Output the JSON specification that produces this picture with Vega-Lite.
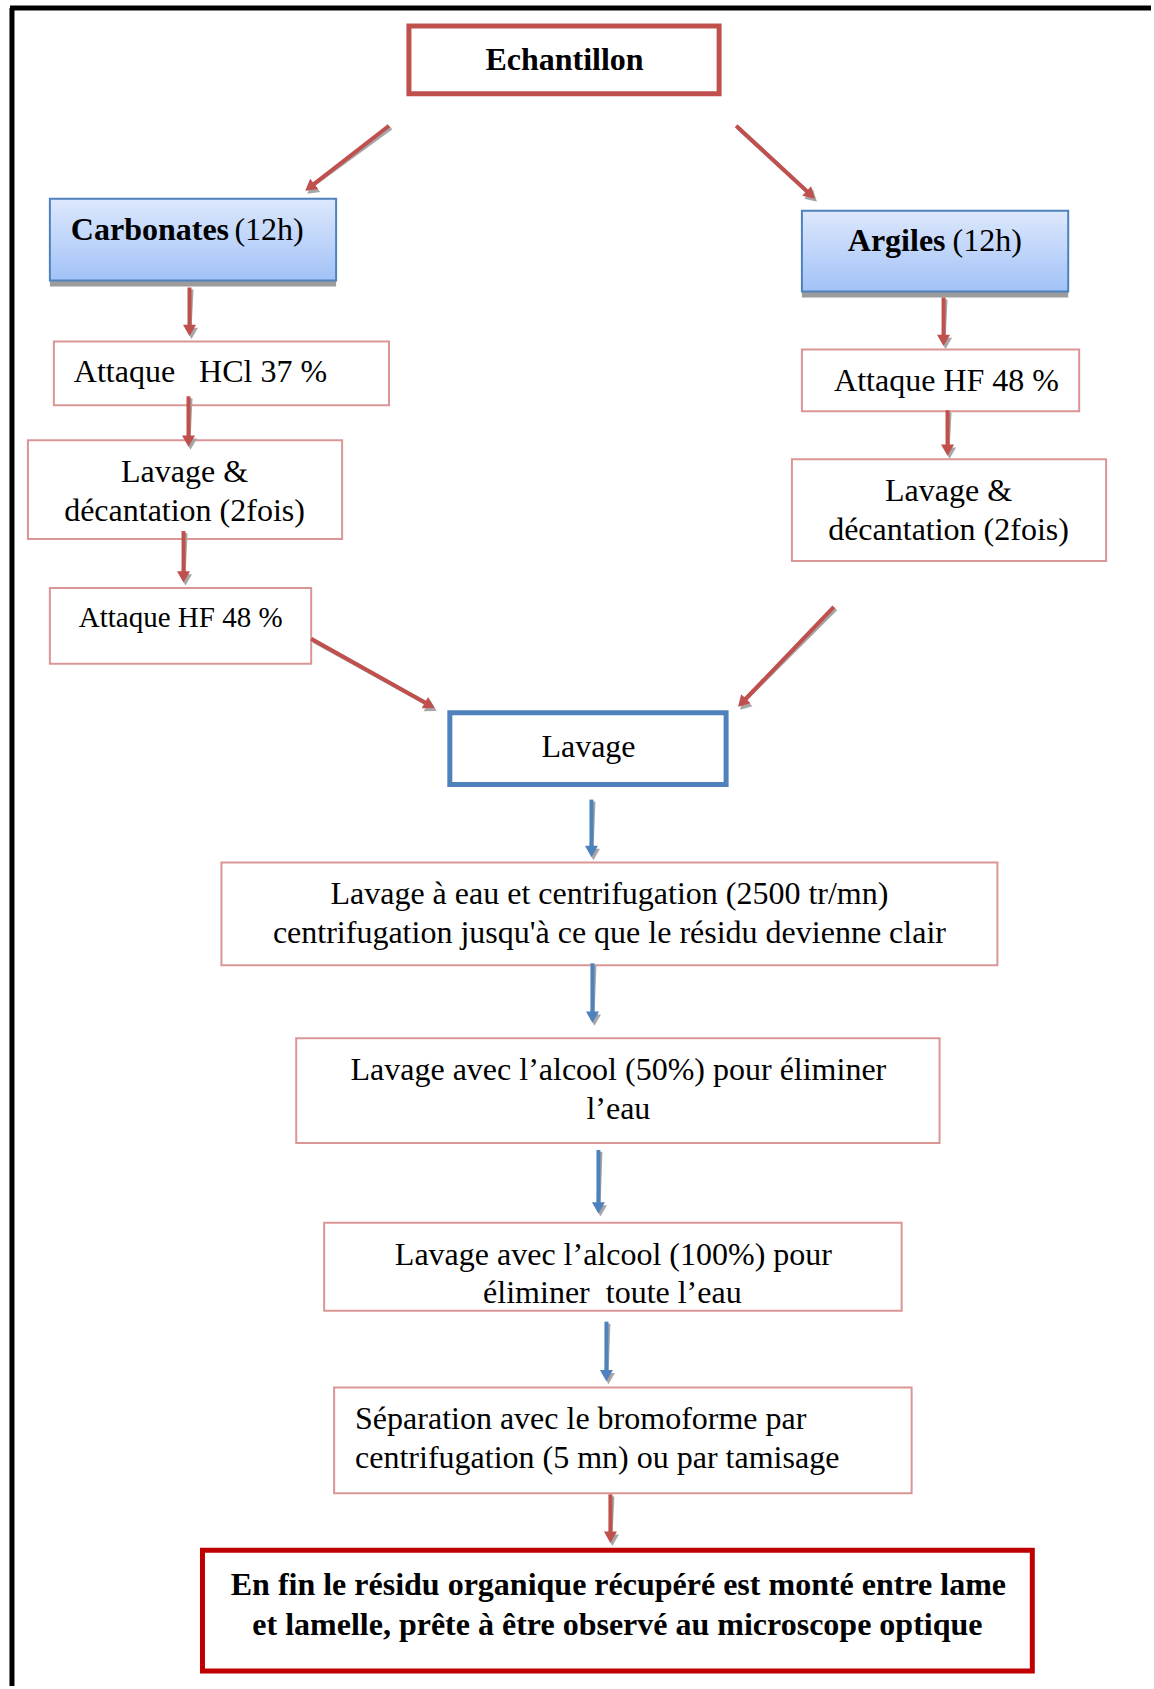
{
  "$schema": "https://vega.github.io/schema/vega-lite/v6.json",
  "width": 1154,
  "height": 1689,
  "padding": 0,
  "autosize": {"type": "fit", "contains": "padding"},
  "background": "white",
  "config": {"view": {"stroke": null}},
  "datasets": {
    "frame": [
      {"x": 12, "y": 8, "x2": 12, "y2": 1689},
      {"x": 10, "y": 8, "x2": 1154, "y2": 8}
    ],
    "boxes": [
      {"name": "Echantillon", "kind": "source", "x": 410, "x2": 721, "y": 26, "y2": 94},
      {"name": "Carbonates", "kind": "group", "x": 50, "x2": 337, "y": 199, "y2": 281},
      {"name": "Argiles", "kind": "group", "x": 804, "x2": 1071, "y": 211, "y2": 292},
      {"name": "Attaque HCl", "kind": "step", "x": 54, "x2": 390, "y": 342, "y2": 406},
      {"name": "Lavage gauche", "kind": "step", "x": 28, "x2": 343, "y": 441, "y2": 540},
      {"name": "Attaque HF gauche", "kind": "step", "x": 50, "x2": 312, "y": 589, "y2": 665},
      {"name": "Attaque HF droite", "kind": "step", "x": 804, "x2": 1082, "y": 350, "y2": 412},
      {"name": "Lavage droite", "kind": "step", "x": 794, "x2": 1109, "y": 460, "y2": 562},
      {"name": "Lavage", "kind": "merge", "x": 451, "x2": 728, "y": 714, "y2": 786},
      {"name": "Lavage eau", "kind": "step", "x": 222, "x2": 1000, "y": 864, "y2": 967},
      {"name": "Alcool 50", "kind": "step", "x": 297, "x2": 942, "y": 1040, "y2": 1145},
      {"name": "Alcool 100", "kind": "step", "x": 325, "x2": 904, "y": 1225, "y2": 1313},
      {"name": "Separation", "kind": "step", "x": 335, "x2": 914, "y": 1390, "y2": 1496},
      {"name": "Final", "kind": "final", "x": 203, "x2": 1035, "y": 1553, "y2": 1674}
    ],
    "arrows": [
      {"kind": "red", "x": 390, "y": 126, "x2": 310.5, "y2": 187.7},
      {"kind": "red", "x": 738, "y": 126, "x2": 812.9, "y2": 195.2},
      {"kind": "red", "x": 190, "y": 288, "x2": 190, "y2": 331},
      {"kind": "red", "x": 189, "y": 397, "x2": 189, "y2": 442},
      {"kind": "red", "x": 184, "y": 532, "x2": 184, "y2": 578},
      {"kind": "red", "x": 946, "y": 298, "x2": 946, "y2": 341},
      {"kind": "red", "x": 950, "y": 411, "x2": 950, "y2": 451},
      {"kind": "red", "x": 312, "y": 640, "x2": 430.9, "y2": 706.6},
      {"kind": "red", "x": 836, "y": 608, "x2": 743.9, "y2": 704},
      {"kind": "blue", "x": 593, "y": 801, "x2": 593, "y2": 853},
      {"kind": "blue", "x": 594, "y": 965, "x2": 594, "y2": 1019},
      {"kind": "blue", "x": 600, "y": 1152, "x2": 600, "y2": 1210},
      {"kind": "blue", "x": 608, "y": 1324, "x2": 608, "y2": 1378},
      {"kind": "red", "x": 612, "y": 1497, "x2": 612, "y2": 1540}
    ],
    "textCenter": [
      {"x": 185, "y": 471, "text": "Lavage &"},
      {"x": 185, "y": 510, "text": "décantation (2fois)"},
      {"x": 949, "y": 380, "text": "Attaque HF 48 %"},
      {"x": 951, "y": 490, "text": "Lavage &"},
      {"x": 951, "y": 529, "text": "décantation (2fois)"},
      {"x": 590, "y": 746, "text": "Lavage"},
      {"x": 611, "y": 894, "text": "Lavage à eau et centrifugation (2500 tr/mn)"},
      {"x": 611, "y": 933, "text": "centrifugation jusqu'à ce que le résidu devienne clair"},
      {"x": 620, "y": 1070, "text": "Lavage avec l’alcool (50%) pour éliminer"},
      {"x": 620, "y": 1109, "text": "l’eau"},
      {"x": 615, "y": 1255, "text": "Lavage avec l’alcool (100%) pour"},
      {"x": 614, "y": 1293, "text": "éliminer\u00a0 toute l’eau"}
    ],
    "textLeft": [
      {"x": 74, "y": 371, "text": "Attaque\u00a0\u00a0 HCl 37 %"},
      {"x": 356, "y": 1420, "text": "Séparation avec le bromoforme par"},
      {"x": 356, "y": 1459, "text": "centrifugation (5 mn) ou par tamisage"},
      {"x": 235, "y": 228, "text": "(12h)"},
      {"x": 955, "y": 239, "text": "(12h)"}
    ],
    "textSmall": [
      {"x": 79, "y": 617, "text": "Attaque HF 48 %"}
    ],
    "boldCenter": [
      {"x": 566, "y": 58, "text": "Echantillon"},
      {"x": 620, "y": 1586, "text": "En fin le résidu organique récupéré est monté entre lame"},
      {"x": 619, "y": 1626, "text": "et lamelle, prête à être observé au microscope optique"}
    ],
    "boldLeft": [
      {"x": 71, "y": 228, "text": "Carbonates"},
      {"x": 850, "y": 239, "text": "Argiles"}
    ]
  },
  "encoding": {
    "x": {"field": "x", "type": "quantitative", "scale": {"domain": [0, 1154], "nice": false, "zero": false}, "axis": null},
    "y": {"field": "y", "type": "quantitative", "scale": {"domain": [0, 1689], "nice": false, "zero": false, "reverse": true}, "axis": null}
  },
  "layer": [
    {
      "data": {"name": "frame"},
      "mark": {"type": "rule", "color": "black", "strokeWidth": 5},
      "encoding": {"x2": {"field": "x2"}, "y2": {"field": "y2"}}
    },
    {
      "data": {"name": "boxes"},
      "transform": [{"filter": "datum.kind === 'group'"}],
      "mark": {"type": "rule", "color": "#9C9C9C", "strokeWidth": 6, "yOffset": 3},
      "encoding": {"x2": {"field": "x2"}, "y": {"field": "y2", "type": "quantitative"}}
    },
    {
      "data": {"name": "boxes"},
      "transform": [{"filter": "datum.kind === 'group'"}],
      "mark": {
        "type": "rect",
        "stroke": "#4F81BD",
        "strokeWidth": 2,
        "fill": {"gradient": "linear", "x1": 0, "y1": 0, "x2": 0, "y2": 1,
          "stops": [{"offset": 0, "color": "#DDE8FC"}, {"offset": 1, "color": "#A2C2F7"}]}
      },
      "encoding": {"x2": {"field": "x2"}, "y2": {"field": "y2"}}
    },
    {
      "data": {"name": "boxes"},
      "transform": [{"filter": "datum.kind === 'step'"}],
      "mark": {"type": "rect", "fill": "white", "stroke": "#D99694", "strokeWidth": 2},
      "encoding": {"x2": {"field": "x2"}, "y2": {"field": "y2"}}
    },
    {
      "data": {"name": "boxes"},
      "transform": [{"filter": "datum.kind === 'source'"}],
      "mark": {"type": "rect", "fill": "white", "stroke": "#C0504D", "strokeWidth": 5},
      "encoding": {"x2": {"field": "x2"}, "y2": {"field": "y2"}}
    },
    {
      "data": {"name": "boxes"},
      "transform": [{"filter": "datum.kind === 'merge'"}],
      "mark": {"type": "rect", "fill": "white", "stroke": "#4F81BD", "strokeWidth": 5},
      "encoding": {"x2": {"field": "x2"}, "y2": {"field": "y2"}}
    },
    {
      "data": {"name": "boxes"},
      "transform": [{"filter": "datum.kind === 'final'"}],
      "mark": {"type": "rect", "fill": "white", "stroke": "#C00000", "strokeWidth": 5},
      "encoding": {"x2": {"field": "x2"}, "y2": {"field": "y2"}}
    },
    {
      "data": {"name": "arrows"},
      "mark": {"type": "rule", "color": "#A6A6A6", "strokeWidth": 4, "xOffset": 2, "yOffset": 2},
      "encoding": {"x2": {"field": "x2"}, "y2": {"field": "y2"}}
    },
    {
      "data": {"name": "arrows"},
      "mark": {"type": "rule", "strokeWidth": 4},
      "encoding": {
        "x2": {"field": "x2"},
        "y2": {"field": "y2"},
        "color": {"field": "kind", "type": "nominal", "legend": null,
          "scale": {"domain": ["red", "blue"], "range": ["#C0504D", "#4F81BD"]}}
      }
    },
    {
      "data": {"name": "arrows"},
      "transform": [{"calculate": "atan2(datum.x2 - datum.x, datum.y - datum.y2) * 180 / PI", "as": "angle"}],
      "mark": {"type": "point", "shape": "triangle-up", "filled": true, "opacity": 1, "size": 170, "color": "#A6A6A6", "xOffset": 2, "yOffset": 3},
      "encoding": {
        "x": {"field": "x2", "type": "quantitative"},
        "y": {"field": "y2", "type": "quantitative"},
        "angle": {"field": "angle", "type": "quantitative", "scale": null}
      }
    },
    {
      "data": {"name": "arrows"},
      "transform": [{"calculate": "atan2(datum.x2 - datum.x, datum.y - datum.y2) * 180 / PI", "as": "angle"}],
      "mark": {"type": "point", "shape": "triangle-up", "filled": true, "opacity": 1, "size": 170},
      "encoding": {
        "x": {"field": "x2", "type": "quantitative"},
        "y": {"field": "y2", "type": "quantitative"},
        "angle": {"field": "angle", "type": "quantitative", "scale": null},
        "color": {"field": "kind", "type": "nominal", "legend": null,
          "scale": {"domain": ["red", "blue"], "range": ["#C0504D", "#4F81BD"]}}
      }
    },
    {
      "data": {"name": "textCenter"},
      "mark": {"type": "text", "font": "Liberation Serif", "fontSize": 32, "align": "center", "baseline": "middle", "dy": 2, "color": "black"},
      "encoding": {"text": {"field": "text"}}
    },
    {
      "data": {"name": "textLeft"},
      "mark": {"type": "text", "font": "Liberation Serif", "fontSize": 32, "align": "left", "baseline": "middle", "dy": 2, "color": "black"},
      "encoding": {"text": {"field": "text"}}
    },
    {
      "data": {"name": "textSmall"},
      "mark": {"type": "text", "font": "Liberation Serif", "fontSize": 29, "align": "left", "baseline": "middle", "dy": 2, "color": "black"},
      "encoding": {"text": {"field": "text"}}
    },
    {
      "data": {"name": "boldCenter"},
      "mark": {"type": "text", "font": "Liberation Serif", "fontSize": 32, "fontWeight": "bold", "align": "center", "baseline": "middle", "dy": 2, "color": "black"},
      "encoding": {"text": {"field": "text"}}
    },
    {
      "data": {"name": "boldLeft"},
      "mark": {"type": "text", "font": "Liberation Serif", "fontSize": 32, "fontWeight": "bold", "align": "left", "baseline": "middle", "dy": 2, "color": "black"},
      "encoding": {"text": {"field": "text"}}
    }
  ]
}
